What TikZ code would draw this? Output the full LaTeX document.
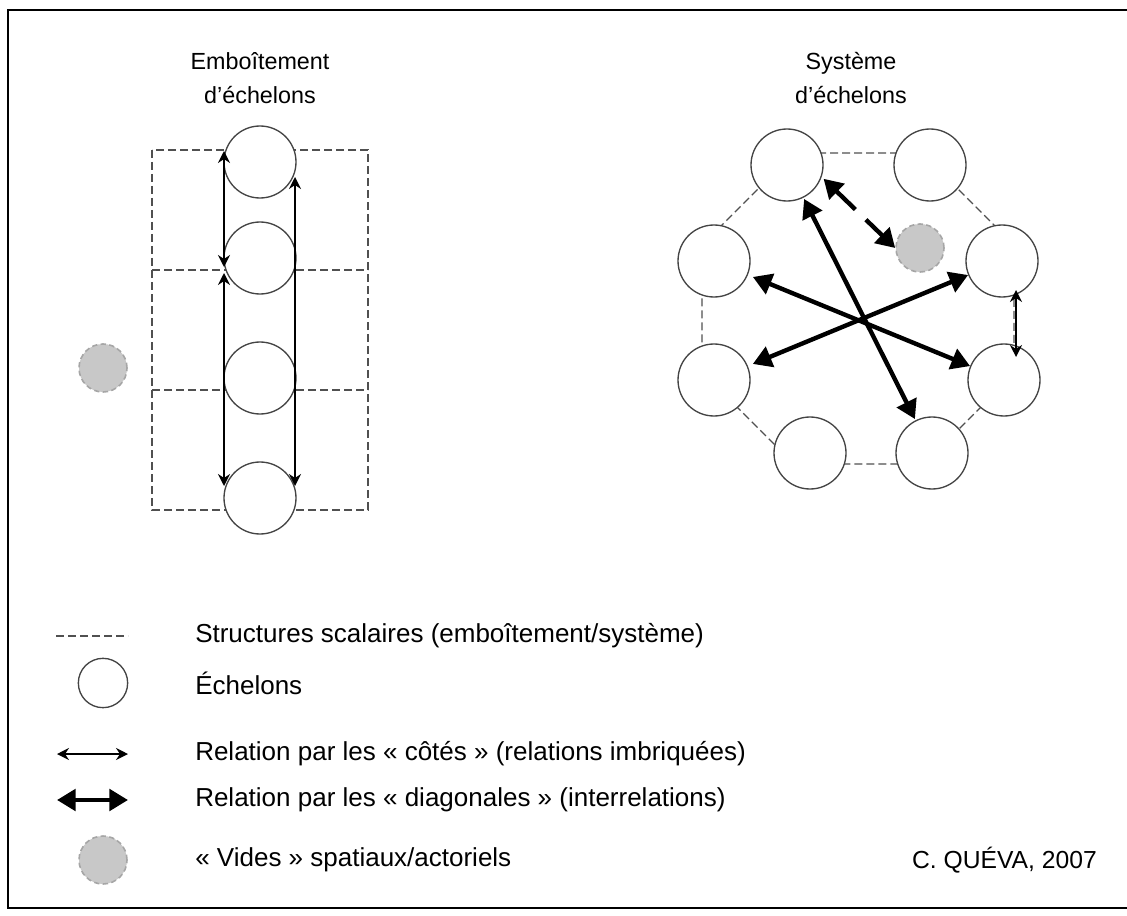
\documentclass[tikz,border=0pt]{standalone}
\usepackage{fontspec}
\setmainfont{Liberation Sans}
\usetikzlibrary{arrows.meta}
\definecolor{dashgray}{HTML}{505050}
\definecolor{circgray}{HTML}{444444}
\definecolor{holefill}{HTML}{C8C8C8}
\definecolor{holedraw}{HTML}{A6A6A6}
\begin{document}
\begin{tikzpicture}[x=0.75pt,y=-0.75pt,
  ech/.style={circle,draw=circgray,line width=1pt,fill=white,minimum size=54pt,inner sep=0pt},
  legech/.style={ech,minimum size=37pt},
  hole/.style={circle,draw=holedraw,line width=1.2pt,dash pattern=on 4pt off 2.5pt,fill=holefill,minimum size=36pt,inner sep=0pt},
  struct/.style={draw=dashgray,line width=0.9pt,dash pattern=on 6pt off 3pt},
  thinarr/.style={line width=1.3pt,{Stealth[length=9pt,width=9pt,inset=3pt]}-{Stealth[length=9pt,width=9pt,inset=3pt]}},
  thickarr/.style={line width=3.3pt,{Triangle[length=14pt,width=16pt]}-{Triangle[length=14pt,width=16pt]}},
  lbl/.style={font=\fontsize{19.5}{23}\selectfont,anchor=west,inner sep=0pt},
  titletext/.style={font=\fontsize{17.5}{25}\selectfont,align=center,inner sep=0pt}
]
\useasboundingbox (0,0) rectangle (1127,916);
% frame
\draw[line width=1.2pt] (1127,10) -- (8,10) -- (8,908) -- (1127,908);

% titles
\node[titletext] (t1) at (260,78) {Emboîtement\\d’échelons};
\node[titletext] (t2) at (851,78) {Système\\d’échelons};

% left structure
\draw[struct] (152,150) rectangle (368,510);
\draw[struct] (152,270) -- (368,270);
\draw[struct] (152,390) -- (368,390);
\node[ech] (L1) at (260,162) {};
\node[ech] (L2) at (260,258) {};
\node[ech] (L3) at (260,378) {};
\node[ech] (L4) at (260,498) {};
\node[hole] (LH) at (103,368) {};
\coordinate (la1) at (224,151);
\coordinate (la2) at (224,267);
\coordinate (la3) at (224,273);
\coordinate (la4) at (224,486);
\coordinate (ra1) at (295,177);
\coordinate (ra2) at (295,486);
\draw[thinarr] (la1) -- (la2);
\draw[thinarr] (la3) -- (la4);
\draw[thinarr] (ra1) -- (ra2);

% right structure
\draw[struct] (794,153) -- (922,153) -- (1014,245) -- (1014,374) -- (924,464) -- (794,464) -- (702,372) -- (702,245) -- cycle;
\node[ech] (A) at (787,165) {};
\node[ech] (B) at (930,165) {};
\node[ech] (C) at (714,261) {};
\node[ech] (D) at (1002,261) {};
\node[ech] (E) at (714,380) {};
\node[ech] (F) at (1004,380) {};
\node[ech] (G) at (810,453) {};
\node[ech] (H) at (932,453) {};
\node[hole] (RH) at (920,248) {};
\draw[thickarr,shorten <=4pt] (C) -- (F);
\draw[thickarr,shorten <=4pt] (E) -- (D);
\draw[thickarr,shorten <=1pt,shorten >=1pt] (A) -- (H);
\draw[thickarr,shorten <=2pt,dash pattern=on 20pt off 11pt on 100pt] (A.-19) -- (RH.west);
\coordinate (r1) at (1016,290);
\coordinate (r2) at (1016,357);
\draw[thinarr] (r1) -- (r2);

% legend
\coordinate (k1a) at (56,636);
\coordinate (k1b) at (128,636);
\draw[struct] (k1a) -- (k1b);
\node[legech] (k2) at (103,683) {};
\coordinate (k3a) at (57,754);
\coordinate (k3b) at (128,754);
\draw[thinarr] (k3a) -- (k3b);
\coordinate (k4a) at (57,800);
\coordinate (k4b) at (128,800);
\draw[thickarr] (k4a) -- (k4b);
\node[hole] (k5) at (103,860) {};

\node[lbl] (l1) at (195,636) {Structures scalaires (emboîtement/système)};
\node[lbl] (l2) at (195,683) {Échelons};
\node[lbl] (l3) at (195,754) {Relation par les « côtés » (relations imbriquées)};
\node[lbl] (l4) at (195,800) {Relation par les « diagonales » (interrelations)};
\node[lbl] (l5) at (195,860) {« Vides » spatiaux/actoriels};
\node[font=\fontsize{18.5}{22}\selectfont,anchor=east,inner sep=0pt] (cr) at (1097,860) {C. QUÉVA, 2007};
\end{tikzpicture}
\end{document}
